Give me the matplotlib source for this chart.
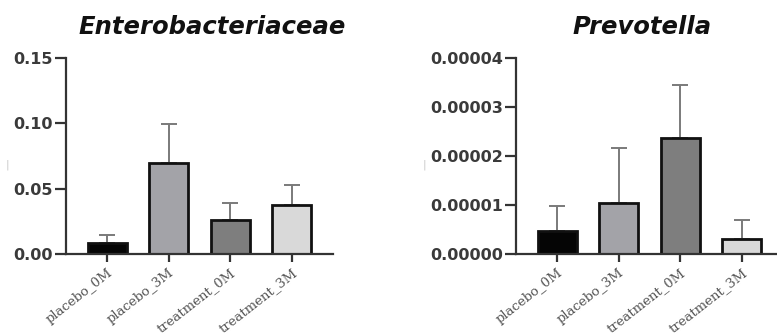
import numpy as np
import matplotlib
matplotlib.use("Agg")
import matplotlib.pyplot as plt

groups = ["placebo_0M", "placebo_3M", "treatment_0M", "treatment_3M"]
bar_colors = ["#050505", "#a3a3a8", "#7e7e7e", "#d9d9d9"]

entero_mean = [0.0085, 0.0695, 0.026, 0.0375]
entero_err = [0.0063, 0.0297, 0.013, 0.0151]
entero_ticks = [0.00, 0.05, 0.10, 0.15]
entero_ticklabels = ["0.00", "0.05", "0.10", "0.15"]

prevo_mean = [4.7e-6, 1.05e-5, 2.36e-5, 3.1e-6]
prevo_err = [5.0e-6, 1.12e-5, 1.08e-5, 3.8e-6]
prevo_ticks = [0, 1e-5, 2e-5, 3e-5, 4e-5]
prevo_ticklabels = ["0.00000", "0.00001", "0.00002", "0.00003", "0.00004"]

W, H = 777, 336
fig = plt.figure(figsize=(W / 100, H / 100), dpi=100)


def panel(rect, means, errs, ticks, ticklabels, title, title_x):
    ax = fig.add_axes(rect)
    x = np.arange(len(groups))
    ax.errorbar(x, means, yerr=[np.zeros(len(errs)), errs], fmt="none",
                ecolor="#7a7a7a", elinewidth=1.4, capsize=6, capthick=1.4,
                zorder=1)
    ax.bar(x, means, width=0.63, color=bar_colors, edgecolor="#111111",
           linewidth=2.0, zorder=2)
    ax.set_xlim(-0.67, 3.67)
    ax.set_ylim(ticks[0], ticks[-1])
    ax.set_yticks(ticks)
    ax.set_yticklabels(ticklabels, fontfamily="DejaVu Sans",
                       fontweight="bold", fontsize=11.5, color="#3a3a3a")
    ax.set_xticks(x)
    ax.set_xticklabels(groups, rotation=38, ha="right", va="top",
                       rotation_mode="anchor", fontfamily="DejaVu Serif",
                       fontsize=9.5, color="#555555")
    for s in ["top", "right"]:
        ax.spines[s].set_visible(False)
    for s in ["left", "bottom"]:
        ax.spines[s].set_linewidth(1.6)
        ax.spines[s].set_color("#333333")
    ax.tick_params(axis="y", direction="out", length=8, width=1.6,
                   color="#333333", pad=1.5)
    ax.tick_params(axis="x", direction="out", length=6, width=1.6,
                   color="#333333", pad=3)
    fig.text(title_x / W, 1 - 27 / H, title, ha="center", va="center",
             fontfamily="DejaVu Sans", fontweight="bold", style="italic",
             fontsize=17.5, color="#111111")
    return ax


panel([66 / W, 1 - 254 / H, 267 / W, 196 / H], entero_mean, entero_err,
      entero_ticks, entero_ticklabels, "Enterobacteriaceae", 212)
panel([516 / W, 1 - 254 / H, 267 / W, 196 / H], prevo_mean, prevo_err,
      prevo_ticks, prevo_ticklabels, "Prevotella", 642)

# faint leftover marks of the cut-off y-axis labels
for mx in [7, 424]:
    fig.text(mx / W, 1 - 165 / H, "|", ha="center", va="center",
             fontsize=8, color="#c8c8c8")

fig.savefig("out.png", dpi=100)
